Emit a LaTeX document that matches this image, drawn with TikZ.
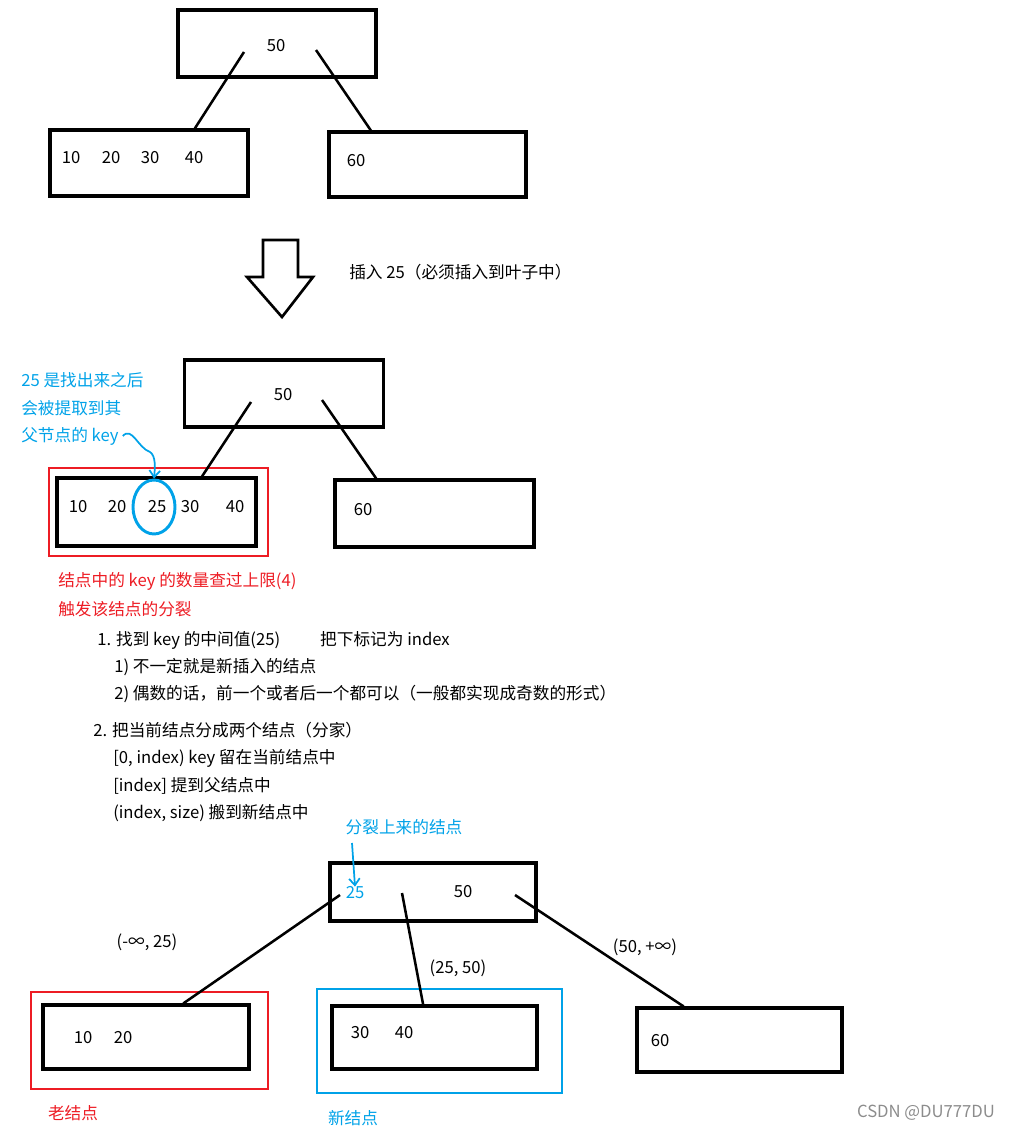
\documentclass[tikz,border=0pt]{standalone}
\usepackage{fontspec}
\setmainfont{Noto Sans CJK SC}
\usetikzlibrary{arrows.meta, shapes.geometric}

\definecolor{penred}{RGB}{237,28,36}
\definecolor{penblue}{RGB}{0,162,232}

\begin{document}
\begin{tikzpicture}[x=0.75pt, y=-0.75pt,
  txt/.style={font=\fontsize{12.5}{15}\selectfont, inner sep=0pt},
  row/.style={txt, anchor=west},
  box/.style={draw, line width=2.3pt, inner sep=0pt},
  sz/.style 2 args={minimum width=#1*0.75pt, minimum height=#2*0.75pt},
  frm/.style={draw=#1, line width=2.2pt, inner sep=0pt},
  link/.style={line width=1.9pt},
  hand/.style={penblue, line width=1.3pt, -{Straight Barb[length=5pt, width=8pt]}}]
  \useasboundingbox (0,0) rectangle (1023,1134);

  % before the insert
  \node[box, sz={198}{67}] (rootA) at (277,43.5) {};
  \node[txt] (a50) at (276,46) {50};
  \node[box, sz={198}{66}] (leftA) at (149,163) {};
  \foreach \k/\x in {10/71,20/111,30/150,40/194}
    \node[txt] (a\k) at (\x,158) {\k};
  \node[box, sz={197}{65}] (rightA) at (427.5,164.5) {};
  \node[txt] (a60) at (356,161) {60};
  \coordinate (ra1) at (244,52);
  \coordinate (ra2) at (316,50);
  \draw[link] (ra1) -- (leftA.37);
  \draw[link] (ra2) -- (rightA.149);

  % hollow arrow
  \draw[line width=2pt, line join=miter] (263,240) -- (298,240) -- (298,277)
    -- (313,277) -- (282,317) -- (247,277) -- (263,277) -- cycle;
  \node[row] (ins) at (349,272) {插入 25（必须插入到叶子中）};

  % after the insert
  \node[box, sz={199}{67}] (rootB) at (284,393.5) {};
  \node[txt] (b50) at (283,395) {50};
  \node[frm=penred, sz={219}{88}] (fullfrm) at (158.5,512) {};
  \node[box, sz={199}{68}] (leftB) at (156.5,512) {};
  \foreach \k/\x in {10/78,20/117,25/157,30/190,40/235}
    \node[txt] (b\k) at (\x,507) {\k};
  \node[box, sz={199}{67}] (rightB) at (434.5,513.5) {};
  \node[txt] (b60) at (363,510) {60};
  \node[ellipse, draw=penblue, line width=2.2pt, inner sep=0pt, sz={42}{54}] (mid) at (154,507) {};
  \coordinate (rb1) at (251,402);
  \coordinate (rb2) at (322,400);
  \draw[link] (rb1) -- (leftB.38);
  \draw[link] (rb2) -- (rightB.149);

  % note on the middle key
  \node[row, penblue] (tip1) at (21,380) {25 是找出来之后};
  \node[row, penblue] (tip2) at (21,408) {会被提取到其};
  \node[row, penblue] (tip3) at (21,436) {父节点的 key};
  \draw[hand] ([xshift=3pt]tip3.east) .. controls (132,426) and (138,448)
    .. (150,452) .. controls (156,456) and (155,468) .. (mid.north);

  \node[row, penred] (warn1) at (58,581) {结点中的 key 的数量查过上限(4)};
  \node[row, penred] (warn2) at (58,609) {触发该结点的分裂};

  \node[row] (s1) at (97,640) {1. 找到 key 的中间值(25)\hspace{30pt}把下标记为 index};
  \node[row] (s1a) at (114,667) {1) 不一定就是新插入的结点};
  \node[row] (s1b) at (114,694) {2) 偶数的话，前一个或者后一个都可以（一般都实现成奇数的形式）};
  \node[row] (s2) at (93,730) {2. 把当前结点分成两个结点（分家）};
  \node[row] (s2a) at (113,758) {[0, index) key 留在当前结点中};
  \node[row] (s2b) at (113,786) {[index] 提到父结点中};
  \node[row] (s2c) at (113,813) {(index, size) 搬到新结点中};

  % after the split
  \node[txt, penblue] (uplbl) at (404,827) {分裂上来的结点};
  \node[box, sz={206}{58}] (rootC) at (433,892) {};
  \node[txt, penblue] (c25) at (355,893) {25};
  \node[txt] (c50) at (463,892) {50};
  \coordinate (upsrc) at (352,843);
  \draw[hand] (upsrc) -- (c25.north);

  \node[frm=penred, sz={237}{97}] (oldfrm) at (149.5,1040.5) {};
  \node[box, sz={206}{64}] (leftC) at (146,1037) {};
  \node[txt] (c10) at (83,1038) {10};
  \node[txt] (c20) at (123,1038) {20};
  \node[frm=penblue, sz={245}{104}] (newfrm) at (439.5,1041) {};
  \node[box, sz={205}{63}] (midC) at (434.5,1037.5) {};
  \node[txt] (c30) at (360,1033) {30};
  \node[txt] (c40) at (404,1033) {40};
  \node[box, sz={205}{64}] (rightC) at (739.5,1040) {};
  \node[txt] (c60) at (660,1041) {60};

  \coordinate (rc1) at (340,895);
  \coordinate (rc2) at (402,893);
  \coordinate (rc3) at (515,895);
  \draw[link] (rc1) -- (leftC.42);
  \draw[link] (rc2) -- (midC.109.5);
  \draw[link] (rc3) -- (rightC.149);

  \node[txt] (lo) at (147,942) {(-∞, 25)};
  \node[txt] (md) at (458,968) {(25, 50)};
  \node[txt] (hi) at (645,947) {(50, +∞)};

  \node[txt, penred] (oldlbl) at (73,1113) {老结点};
  \node[txt, penblue] (newlbl) at (353,1118) {新结点};
  \node[txt, black!45] (mark) at (926,1113) {CSDN @DU777DU};
\end{tikzpicture}
\end{document}
